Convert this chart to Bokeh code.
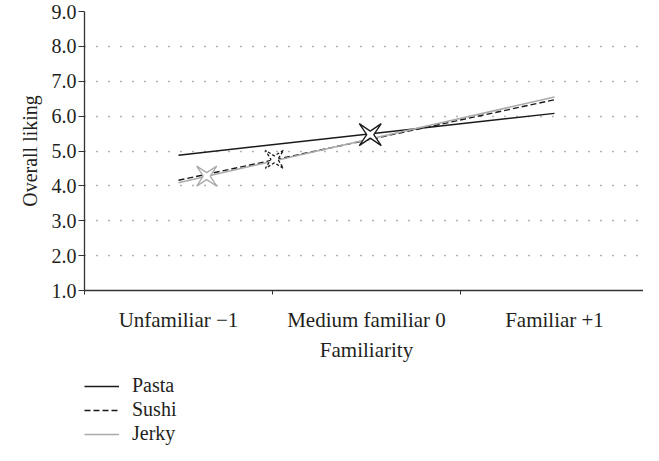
import numpy as np
from bokeh.plotting import figure
from bokeh.layouts import column
from bokeh.models import (FixedTicker, NumeralTickFormatter, Legend, LegendItem,
                          Range1d)
from bokeh.embed import file_html
from bokeh.resources import INLINE

# ---- data ----
familiarity = [-1, 0, 1]
category_labels = ["Unfamiliar \u22121", "Medium familiar 0", "Familiar +1"]
pasta = [4.88, 5.48, 6.08]
sushi = [4.16, 5.31, 6.47]
jerky = [4.09, 5.32, 6.55]
series_names = ["Pasta", "Sushi", "Jerky"]
star_x = [0.02, -0.49, -0.85]      # mean familiarity of each product
star_y = [5.47, 4.76, 4.28]
y_ticks = [1, 2, 3, 4, 5, 6, 7, 8, 9]

FONT = "Liberation Serif"
TXT = "#231f20"
FS = "20px"

X0, X1 = -1.5, 1.5
Y0, Y1 = 1.0, 9.0
FW, FH = 564, 279

styles = [dict(line_color="#1a1a1a", line_width=1.4),
          dict(line_color="#1a1a1a", line_width=1.4, line_dash="6 3"),
          dict(line_color="#aaaaaa", line_width=1.6)]
series_values = [pasta, sushi, jerky]

p = figure(frame_width=FW, frame_height=FH, output_backend="svg", toolbar_location=None,
           x_range=Range1d(X0, X1), y_range=Range1d(Y0, Y1),
           min_border_left=77, min_border_right=2, min_border_top=11,
           min_border_bottom=84)
p.outline_line_color = None
p.background_fill_color = "white"

# grid
p.xgrid.grid_line_color = None
p.ygrid.ticker = FixedTicker(ticks=y_ticks[1:])
p.ygrid.grid_line_color = "#666666"
p.ygrid.grid_line_dash = "1 11"
p.ygrid.grid_line_width = 1.4

# y axis
ya = p.yaxis[0]
ya.ticker = FixedTicker(ticks=y_ticks)
ya.formatter = NumeralTickFormatter(format="0.0")
ya.axis_label = "Overall liking"
ya.axis_line_color = "#333333"
ya.major_tick_line_color = "#333333"
ya.major_tick_out = 6
ya.major_tick_in = 0
ya.minor_tick_line_color = None
ya.major_label_standoff = 2
ya.axis_label_standoff = 8

# x axis
xa = p.xaxis[0]
xa.ticker = FixedTicker(ticks=familiarity, minor_ticks=[-1.5, -0.5, 0.5, 1.5])
xa.major_label_overrides = {f: l for f, l in zip(familiarity, category_labels)}
xa.axis_label = "Familiarity"
xa.axis_line_color = "#333333"
xa.major_tick_line_color = None
xa.minor_tick_line_color = "#333333"
xa.minor_tick_out = 4
xa.minor_tick_in = 0
xa.major_label_standoff = 11
xa.axis_label_standoff = 3

for ax in (xa, ya):
    ax.major_label_text_font = FONT
    ax.axis_label_text_font = FONT
    ax.major_label_text_color = TXT
    ax.axis_label_text_color = TXT
    ax.axis_label_text_font_style = "normal"
    ax.axis_line_width = 1.3
ya.major_label_text_font_size = FS
ya.axis_label_text_font_size = FS
xa.major_label_text_font_size = "21px"
xa.axis_label_text_font_size = "21px"

# lines
for vals, st in zip(series_values, styles):
    p.line(familiarity, vals, **st)

# four-pointed star markers (shape defined in pixels, converted via axis scales)
px_x = FW / (X1 - X0)
px_y = FH / (Y1 - Y0)
star_sizes = [11, 9, 10]
star_colors = ["#1a1a1a", "#1a1a1a", "#aaaaaa"]
star_dash = ["solid", "3 2", "solid"]
for cx, cy, s, c, d in zip(star_x, star_y, star_sizes, star_colors, star_dash):
    xs, ys = [], []
    for k in range(8):
        ang = np.pi / 4 * k + np.pi / 4
        rad = s * np.sqrt(2) if k % 2 == 0 else 3.5
        xs.append(cx + rad * np.cos(ang) / px_x)
        ys.append(cy + rad * np.sin(ang) / px_y)
    p.patch(xs, ys, fill_color="white", line_color=c, line_width=1.3, line_dash=d)

# legend strip below the chart, aligned with the plot frame; its lines carry the
# same series but lie outside its (0..1) view, so only the legend shows
leg = figure(frame_width=FW - 7, frame_height=71, output_backend="svg", toolbar_location=None,
             x_range=Range1d(0, 1), y_range=Range1d(0, 1),
             x_axis_location=None, y_axis_location=None,
             min_border_left=84, min_border_right=2, min_border_top=0,
             min_border_bottom=0)
leg.outline_line_color = None
leg.grid.grid_line_color = None
leg_renderers = [leg.line(familiarity, vals, **st)
                 for vals, st in zip(series_values, styles)]
legend = Legend(items=[LegendItem(label=n, renderers=[r])
                       for n, r in zip(series_names, leg_renderers)],
                orientation="vertical", location="top_left",
                label_text_font=FONT, label_text_font_size=FS,
                label_text_color=TXT, border_line_color=None,
                background_fill_alpha=0, padding=0, margin=0,
                spacing=1, glyph_width=35, glyph_height=20, label_height=20,
                label_standoff=13)
leg.add_layout(legend, "center")

layout = column(p, leg, spacing=0)
open("out.html", "w").write(file_html(layout, INLINE))
